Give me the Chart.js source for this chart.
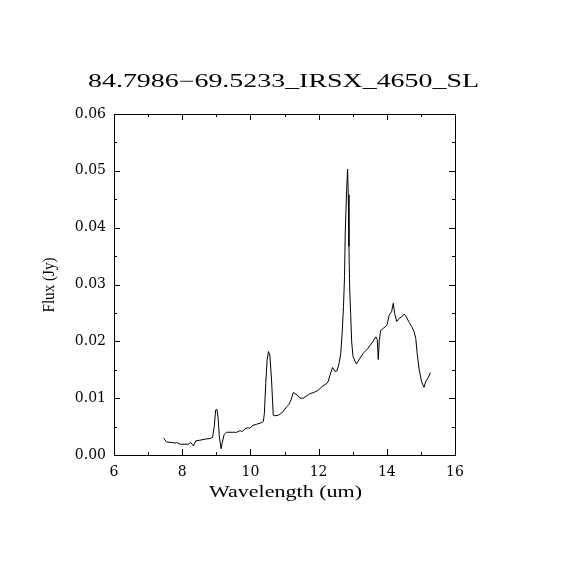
<!DOCTYPE html>
<html lang="en">
<head>
  <meta charset="UTF-8">
  <title>84.7986-69.5233_IRSX_4650_SL</title>
  <script src="https://cdn.jsdelivr.net/npm/chart.js"></script>
  <style>
    * { box-sizing: border-box; }
    body { margin: 0; background: #ffffff; }
    .wrap { width: 570px; height: 570px; }
  </style>
</head>
<body>
  <div class="wrap">
    <canvas id="grafico" width="570" height="570"></canvas>
  </div>

  <script>
    // spectrum
    const wavelength = [
      7.45, 7.54, 7.69, 7.79, 7.83, 7.94, 8.18, 8.25, 8.33, 8.40,
      8.52, 8.67, 8.82, 8.89, 8.94, 8.98, 9.02, 9.05, 9.09, 9.14,
      9.18, 9.23, 9.30, 9.50, 9.60, 9.70, 9.76, 9.84, 9.92, 9.98,
      10.07, 10.18, 10.33, 10.38, 10.41, 10.45, 10.49, 10.53, 10.57, 10.62,
      10.67, 10.72, 10.82, 10.92, 10.99, 11.07, 11.13, 11.19, 11.26, 11.33,
      11.37, 11.45, 11.55, 11.65, 11.75, 11.86, 11.99, 12.09, 12.22, 12.28,
      12.35, 12.41, 12.48, 12.54, 12.60, 12.65, 12.69, 12.73, 12.76, 12.78,
      12.82, 12.85, 12.87, 12.89, 12.91, 12.94, 12.97, 13.01, 13.11, 13.21,
      13.31, 13.39, 13.45, 13.56, 13.68, 13.72, 13.75, 13.78, 13.82, 13.90,
      14.00, 14.03, 14.07, 14.14, 14.19, 14.23, 14.29, 14.36, 14.43, 14.51,
      14.57, 14.66, 14.73, 14.80, 14.85, 14.89, 14.95, 15.02, 15.09, 15.14,
      15.22, 15.28
    ];
    const flux = [
      0.0030, 0.0023, 0.0022, 0.0021, 0.0022, 0.0019, 0.0019, 0.0022, 0.0016, 0.0025,
      0.0026, 0.0028, 0.0029, 0.0031, 0.0050, 0.0079, 0.0080, 0.0067, 0.0032, 0.0011,
      0.0023, 0.0036, 0.0040, 0.0040, 0.0040, 0.0043, 0.0041, 0.0046, 0.0048, 0.0047,
      0.0052, 0.0054, 0.0057, 0.0059, 0.0073, 0.0126, 0.0167, 0.0182, 0.0176, 0.0132,
      0.0070, 0.0069, 0.0070, 0.0074, 0.0079, 0.0085, 0.0089, 0.0097, 0.0110, 0.0107,
      0.0106, 0.0100, 0.0100, 0.0104, 0.0108, 0.0110, 0.0114, 0.0120, 0.0125, 0.0129,
      0.0144, 0.0154, 0.0147, 0.0148, 0.0161, 0.0179, 0.0214, 0.0261, 0.0314, 0.0387,
      0.0463, 0.0503, 0.0458, 0.0367, 0.0296, 0.0249, 0.0199, 0.0173, 0.0160, 0.0170,
      0.0179, 0.0184, 0.0188, 0.0197, 0.0208, 0.0203, 0.0168, 0.0202, 0.0219, 0.0223,
      0.0228, 0.0235, 0.0246, 0.0252, 0.0267, 0.0249, 0.0235, 0.0240, 0.0243, 0.0248,
      0.0243, 0.0233, 0.0226, 0.0217, 0.0205, 0.0179, 0.0150, 0.0129, 0.0119, 0.0129,
      0.0137, 0.0145
    ];

    const xTicks = [6, 8, 10, 12, 14, 16];
    const xMinor = [7, 9, 11, 13, 15];
    const yTicks = [0, 0.01, 0.02, 0.03, 0.04, 0.05, 0.06];
    const yMinor = [0.005, 0.015, 0.025, 0.035, 0.045, 0.055];

    const titulo = '84.7986\u221269.5233_IRSX_4650_SL';
    const tituloX = 'Wavelength (um)';
    const tituloY = 'Flux (Jy)';

    // text stretched to a given width (Hershey-like wide glyphs)
    function textoLargo(ctx, txt, x, y, largura, fonte, rot) {
      ctx.save();
      ctx.font = fonte;
      ctx.fillStyle = '#000';
      ctx.textAlign = 'center';
      ctx.textBaseline = 'alphabetic';
      ctx.translate(x, y);
      if (rot) ctx.rotate(rot);
      const w = ctx.measureText(txt).width;
      ctx.scale(largura / w, 1);
      ctx.fillText(txt, 0, 0);
      ctx.restore();
    }

    const molduraPlugin = {
      id: 'moldura',
      afterDraw(chart) {
        const ctx = chart.ctx;
        const a = chart.chartArea;
        const sx = chart.scales.x, sy = chart.scales.y;
        ctx.save();
        ctx.strokeStyle = '#000';
        ctx.lineWidth = 1;
        ctx.strokeRect(Math.round(a.left) + 0.5, Math.round(a.top) + 0.5,
          Math.round(a.right - a.left), Math.round(a.bottom - a.top));
        ctx.beginPath();
        function tx(v, len) {
          const p = Math.round(sx.getPixelForValue(v)) + 0.5;
          ctx.moveTo(p, a.bottom); ctx.lineTo(p, a.bottom - len);
          ctx.moveTo(p, a.top); ctx.lineTo(p, a.top + len);
        }
        function ty(v, len) {
          const p = Math.round(sy.getPixelForValue(v)) + 0.5;
          ctx.moveTo(a.left, p); ctx.lineTo(a.left + len, p);
          ctx.moveTo(a.right, p); ctx.lineTo(a.right - len, p);
        }
        xTicks.forEach(v => tx(v, 6));
        xMinor.forEach(v => tx(v, 3));
        yTicks.forEach(v => ty(v, 6));
        yMinor.forEach(v => ty(v, 3));
        ctx.stroke();
        ctx.restore();

        textoLargo(ctx, titulo, 283.5, 87, 391, '18px "Liberation Serif"');
        textoLargo(ctx, tituloX, 285.5, 497, 153, '16px "Liberation Serif"');
        textoLargo(ctx, tituloY, 54, 285, 55, '16px "Liberation Serif"', -Math.PI / 2);
      }
    };

    new Chart(document.getElementById('grafico'), {
      type: 'line',
      data: {
        datasets: [{
          label: 'Flux',
          data: wavelength.map((w, i) => ({ x: w, y: flux[i] })),
          borderColor: '#000000',
          borderWidth: 1,
          pointRadius: 0,
          tension: 0,
          fill: false
        }]
      },
      options: {
        responsive: false,
        animation: false,
        devicePixelRatio: 1,
        layout: { padding: { left: 0, top: 114, right: 115, bottom: 0 } },
        plugins: {
          legend: { display: false },
          title: { display: false },
          tooltip: { enabled: false }
        },
        scales: {
          x: {
            type: 'linear',
            min: 6,
            max: 16,
            afterBuildTicks: s => { s.ticks = xTicks.map(v => ({ value: v })); },
            afterFit: s => { s.height = 115; },
            grid: { display: false, drawTicks: false },
            border: { display: false },
            ticks: {
              color: '#000',
              padding: 9,
              maxRotation: 0,
              font: { family: 'DejaVu Serif', size: 14 },
              callback: v => String(v)
            }
          },
          y: {
            type: 'linear',
            min: 0,
            max: 0.06,
            afterBuildTicks: s => { s.ticks = yTicks.map(v => ({ value: v })); },
            afterFit: s => { s.width = 114; },
            grid: { display: false, drawTicks: false },
            border: { display: false },
            ticks: {
              color: '#000',
              padding: 8,
              font: { family: 'DejaVu Serif', size: 14 },
              callback: v => v.toFixed(2)
            }
          }
        }
      },
      plugins: [molduraPlugin]
    });
  </script>
</body>
</html>
